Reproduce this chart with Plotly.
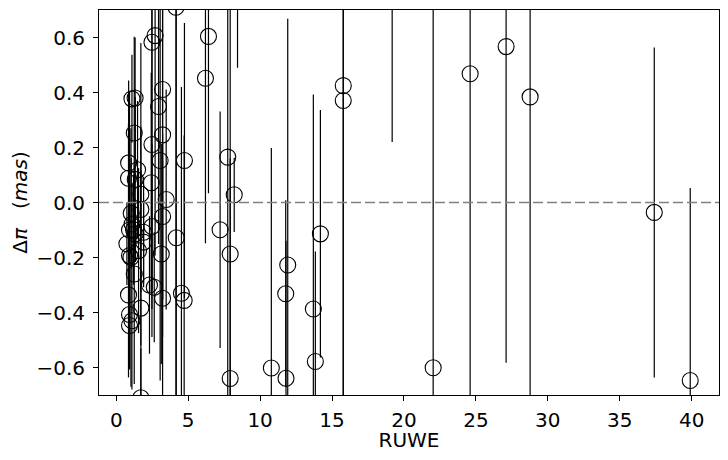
import plotly.graph_objects as go

# RUWE vs parallax difference
ruwe = [
    4.15, 2.70, 2.48, 6.41, 6.20, 8.43, 19.18, 3.22, 1.09, 1.31,
    2.94, 1.25, 3.22, 2.48, 0.86, 3.05, 4.74, 1.48, 0.85, 1.32,
    2.43, 1.71, 3.47, 1.71, 1.04, 3.22, 1.10, 0.92, 1.20, 2.48,
    1.90, 4.17, 0.74, 1.90, 1.32, 1.55, 0.92, 1.02, 3.13, 1.25,
    2.31, 2.64, 3.22, 4.53, 4.72, 0.85, 1.71, 0.92, 1.09, 0.92,
    1.71, 7.75, 8.20, 7.22, 7.92, 7.92, 10.78, 11.92, 11.78, 11.80,
    13.70, 13.84, 14.19, 15.78, 15.78, 22.03, 24.60, 27.10, 28.77, 37.40,
    39.90,
]
dplx = [
    0.710, 0.607, 0.583, 0.604, 0.452, 0.950, 0.920, 0.411, 0.377, 0.380,
    0.349, 0.253, 0.246, 0.211, 0.144, 0.153, 0.153, 0.119, 0.088, 0.084,
    0.072, 0.030, 0.011, -0.025, -0.039, -0.051, -0.078, -0.100, -0.099, -0.087,
    -0.108, -0.128, -0.150, -0.144, -0.114, -0.175, -0.193, -0.200, -0.187, -0.260,
    -0.300, -0.308, -0.348, -0.330, -0.356, -0.336, -0.384, -0.407, -0.430, -0.447,
    -0.710, 0.165, 0.028, -0.099, -0.187, -0.640, -0.602, -0.227, -0.332, -0.639,
    -0.387, -0.578, -0.114, 0.425, 0.371, -0.601, 0.468, 0.567, 0.384, -0.036,
    -0.647,
]
dplx_err = [
    1.50, 0.80, 0.90, 0.57, 0.60, 0.46, 0.70, 0.90, 0.16, 0.22,
    0.50, 0.35, 0.60, 0.70, 0.30, 0.80, 0.50, 0.25, 0.20, 0.30,
    0.40, 0.55, 0.40, 0.30, 0.20, 0.30, 0.15, 0.50, 0.20, 0.30,
    0.20, 0.90, 0.15, 0.15, 0.10, 0.30, 0.20, 0.47, 0.40, 0.40,
    0.25, 0.20, 0.50, 0.75, 0.60, 0.30, 0.50, 0.20, 0.25, 0.15,
    0.18, 1.00, 0.135, 0.43, 0.90, 0.80, 0.80, 0.895, 0.34, 0.50,
    0.78, 0.40, 0.45, 1.20, 1.10, 1.50, 1.20, 1.15, 1.20, 0.60,
    0.70,
]

fig = go.Figure()
fig.add_trace(go.Scatter(
    x=ruwe, y=dplx, mode="markers",
    marker=dict(symbol="circle-open", size=16, color="black", line=dict(width=1.1)),
    error_y=dict(type="data", array=dplx_err, visible=True, color="black",
                 thickness=1.2, width=0),
    showlegend=False,
))

# 0 の線
fig.add_shape(type="line", xref="paper", x0=0, x1=1, yref="y", y0=0, y1=0,
              line=dict(color="gray", width=1.6, dash="10px,4px"))

axis_common = dict(
    showgrid=False, zeroline=False, showline=True, linecolor="black", linewidth=1,
    mirror=True, ticks="outside", ticklen=5, tickwidth=1, tickcolor="black",
    tickfont=dict(size=20, color="black"), automargin=False,
)
# ページの body に 8px の余白があるので、その分だけ小さくする
fig.update_layout(
    width=712, height=444,
    margin=dict(l=91, r=1, t=2, b=57),
    plot_bgcolor="white", paper_bgcolor="white",
    font=dict(family="DejaVu Sans", color="black"),
    xaxis=dict(range=[-1.2, 41.9], tickvals=[0, 5, 10, 15, 20, 25, 30, 35, 40],
               ticklabelstandoff=2,
               title=dict(text="RUWE", font=dict(size=20), standoff=2), **axis_common),
    yaxis=dict(range=[-0.7, 0.7], tickvals=[-0.6, -0.4, -0.2, 0.0, 0.2, 0.4, 0.6],
               tickformat=".1f", ticklabelstandoff=4,
               title=dict(text="Δ<i>π</i>   (<i>mas</i>)", font=dict(size=20), standoff=6),
               **axis_common),
)
fig.write_html("out.html")
